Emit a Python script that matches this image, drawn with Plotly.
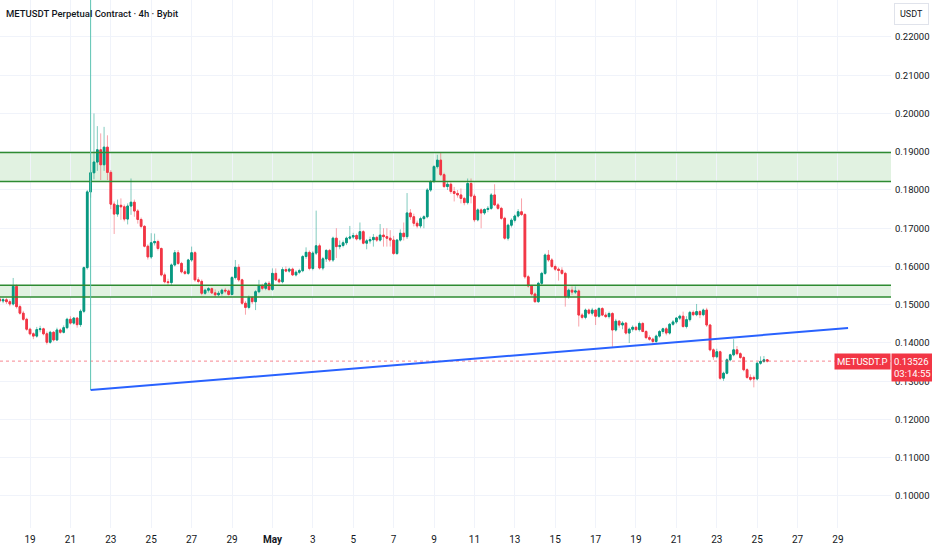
import pandas as pd
import plotly.graph_objects as go

# METUSDT perpetual, 4h candles (first candle 17 Apr 12:00)
candle_start = "2025-04-17 12:00"

opens = [
    0.1515, 0.1510, 0.1513,                              # Apr 17
    0.1508, 0.1502, 0.1548, 0.1495, 0.1478, 0.1462,      # Apr 18
    0.1436, 0.1424, 0.1418, 0.1435, 0.1437, 0.1424,      # Apr 19
    0.1402, 0.1428, 0.1408, 0.1434, 0.1428, 0.1440,      # Apr 20
    0.1462, 0.1452, 0.1465, 0.1448, 0.1483, 0.1597,      # Apr 21
    0.1795, 0.1845, 0.1873, 0.1905, 0.1866, 0.1912,      # Apr 22
    0.1846, 0.1763, 0.1737, 0.1760, 0.1756, 0.1724,      # Apr 23
    0.1758, 0.1768, 0.1745, 0.1723, 0.1705, 0.1653,      # Apr 24
    0.1625, 0.1662, 0.1665, 0.1647, 0.1578, 0.1560,      # Apr 25
    0.1558, 0.1604, 0.1636, 0.1608, 0.1586, 0.1582,      # Apr 26
    0.1617, 0.1636, 0.1565, 0.1561, 0.1530, 0.1538,      # Apr 27
    0.1542, 0.1531, 0.1526, 0.1530, 0.1538, 0.1536,      # Apr 28
    0.1527, 0.1571, 0.1598, 0.1565, 0.1504, 0.1493,      # Apr 29
    0.1519, 0.1508, 0.1534, 0.1549, 0.1543, 0.1556,      # Apr 30
    0.1540, 0.1582, 0.1565, 0.1560, 0.1592, 0.1588,      # May 1
    0.1593, 0.1578, 0.1585, 0.1589, 0.1626, 0.1637,      # May 2
    0.1595, 0.1635, 0.1654, 0.1596, 0.1620, 0.1642,      # May 3
    0.1617, 0.1674, 0.1652, 0.1655, 0.1662, 0.1674,      # May 4
    0.1677, 0.1681, 0.1672, 0.1691, 0.1661, 0.1667,      # May 5
    0.1670, 0.1676, 0.1669, 0.1682, 0.1678, 0.1674,      # May 6
    0.1669, 0.1634, 0.1669, 0.1687, 0.1678, 0.1740,      # May 7
    0.1730, 0.1713, 0.1706, 0.1725, 0.1730, 0.1800,      # May 8
    0.1822, 0.1861, 0.1878, 0.1840, 0.1809, 0.1815,      # May 9
    0.1796, 0.1791, 0.1787, 0.1778, 0.1767, 0.1817,      # May 10
    0.1784, 0.1722, 0.1748, 0.1740, 0.1749, 0.1752,      # May 11
    0.1787, 0.1761, 0.1752, 0.1726, 0.1674, 0.1708,      # May 12
    0.1721, 0.1732, 0.1743, 0.1736, 0.1573, 0.1549,      # May 13
    0.1528, 0.1508, 0.1556, 0.1582, 0.1630, 0.1617,      # May 14
    0.1600, 0.1593, 0.1590, 0.1582, 0.1521, 0.1538,      # May 15
    0.1533, 0.1536, 0.1473, 0.1467, 0.1486, 0.1478,      # May 16
    0.1486, 0.1470, 0.1490, 0.1473, 0.1469, 0.1477,      # May 17
    0.1434, 0.1457, 0.1447, 0.1452, 0.1426, 0.1436,      # May 18
    0.1441, 0.1435, 0.1451, 0.1430, 0.1414, 0.1410,      # May 19
    0.1404, 0.1418, 0.1430, 0.1437, 0.1426, 0.1449,      # May 20
    0.1455, 0.1465, 0.1470, 0.1443, 0.1461, 0.1480,      # May 21
    0.1474, 0.1482, 0.1474, 0.1486, 0.1447, 0.1382,      # May 22
    0.1364, 0.1377, 0.1308, 0.1321, 0.1356, 0.1369,      # May 23
    0.1382, 0.1372, 0.1362, 0.1330, 0.1310, 0.1310,      # May 24
    0.1306, 0.1347, 0.1352, 0.1356,                      # May 25
]

highs = [
    0.1522, 0.1518, 0.1518,
    0.1514, 0.1570, 0.1553, 0.1500, 0.1484, 0.1466,
    0.1440, 0.1428, 0.1442, 0.1445, 0.1440, 0.1430,
    0.1432, 0.1431, 0.1440, 0.1438, 0.1446, 0.1466,
    0.1470, 0.1468, 0.1468, 0.1488, 0.1600, 0.1800,
    0.1852, 0.2000, 0.1967, 0.1948, 0.1965, 0.1943,
    0.1852, 0.1770, 0.1775, 0.1778, 0.1762, 0.1765,
    0.1830, 0.1775, 0.1750, 0.1728, 0.1708, 0.1658,
    0.1687, 0.1686, 0.1670, 0.1650, 0.1584, 0.1568,
    0.1608, 0.1643, 0.1643, 0.1612, 0.1592, 0.1620,
    0.1652, 0.1640, 0.1572, 0.1566, 0.1542, 0.1546,
    0.1545, 0.1540, 0.1536, 0.1542, 0.1544, 0.1540,
    0.1575, 0.1617, 0.1606, 0.1568, 0.1510, 0.1524,
    0.1522, 0.1538, 0.1565, 0.1555, 0.1560, 0.1562,
    0.1595, 0.1595, 0.1570, 0.1598, 0.1600, 0.1597,
    0.1597, 0.1590, 0.1594, 0.1630, 0.1650, 0.1642,
    0.1640, 0.1746, 0.1660, 0.1625, 0.1645, 0.1646,
    0.1678, 0.1700, 0.1668, 0.1668, 0.1678, 0.1706,
    0.1688, 0.1686, 0.1715, 0.1695, 0.1672, 0.1678,
    0.1685, 0.1680, 0.1711, 0.1700, 0.1700, 0.1695,
    0.1680, 0.1672, 0.1697, 0.1715, 0.1792, 0.1750,
    0.1738, 0.1720, 0.1730, 0.1734, 0.1805, 0.1826,
    0.1865, 0.1892, 0.1898, 0.1845, 0.1822, 0.1820,
    0.1808, 0.1800, 0.1804, 0.1782, 0.1830, 0.1830,
    0.1790, 0.1752, 0.1752, 0.1752, 0.1758, 0.1792,
    0.1815, 0.1766, 0.1756, 0.1730, 0.1712, 0.1726,
    0.1736, 0.1750, 0.1778, 0.1740, 0.1578, 0.1552,
    0.1532, 0.1560, 0.1586, 0.1634, 0.1643, 0.1622,
    0.1605, 0.1598, 0.1598, 0.1586, 0.1542, 0.1548,
    0.1548, 0.1540, 0.1478, 0.1490, 0.1490, 0.1492,
    0.1488, 0.1494, 0.1494, 0.1480, 0.1482, 0.1481,
    0.1463, 0.1460, 0.1457, 0.1455, 0.1440, 0.1446,
    0.1445, 0.1456, 0.1455, 0.1434, 0.1420, 0.1414,
    0.1422, 0.1434, 0.1440, 0.1442, 0.1452, 0.1460,
    0.1468, 0.1474, 0.1482, 0.1470, 0.1484, 0.1485,
    0.1502, 0.1486, 0.1490, 0.1492, 0.1450, 0.1386,
    0.1385, 0.1380, 0.1325, 0.1360, 0.1372, 0.1410,
    0.1392, 0.1376, 0.1366, 0.1334, 0.1318, 0.1315,
    0.1350, 0.1365, 0.1366, 0.1358,
]

lows = [
    0.1506, 0.1504, 0.1502,
    0.1496, 0.1498, 0.1490, 0.1474, 0.1458, 0.1432,
    0.1420, 0.1410, 0.1414, 0.1428, 0.1420, 0.1396,
    0.1398, 0.1404, 0.1405, 0.1424, 0.1425, 0.1436,
    0.1448, 0.1448, 0.1440, 0.1442, 0.1478, 0.1592,
    0.1780, 0.1828, 0.1850, 0.1826, 0.1850, 0.1826,
    0.1750, 0.1685, 0.1730, 0.1722, 0.1718, 0.1710,
    0.1735, 0.1730, 0.1712, 0.1700, 0.1650, 0.1618,
    0.1620, 0.1655, 0.1642, 0.1574, 0.1556, 0.1551,
    0.1552, 0.1600, 0.1604, 0.1582, 0.1578, 0.1578,
    0.1612, 0.1560, 0.1556, 0.1525, 0.1526, 0.1532,
    0.1528, 0.1520, 0.1522, 0.1524, 0.1530, 0.1524,
    0.1524, 0.1566, 0.1560, 0.1500, 0.1474, 0.1488,
    0.1502, 0.1486, 0.1530, 0.1538, 0.1538, 0.1536,
    0.1536, 0.1562, 0.1556, 0.1556, 0.1585, 0.1584,
    0.1575, 0.1574, 0.1580, 0.1585, 0.1620, 0.1590,
    0.1590, 0.1630, 0.1592, 0.1590, 0.1612, 0.1612,
    0.1612, 0.1622, 0.1645, 0.1650, 0.1656, 0.1670,
    0.1672, 0.1668, 0.1668, 0.1658, 0.1645, 0.1660,
    0.1652, 0.1664, 0.1665, 0.1652, 0.1652, 0.1652,
    0.1630, 0.1630, 0.1665, 0.1668, 0.1672, 0.1722,
    0.1705, 0.1700, 0.1700, 0.1700, 0.1726, 0.1795,
    0.1818, 0.1856, 0.1836, 0.1805, 0.1800, 0.1790,
    0.1770, 0.1780, 0.1765, 0.1760, 0.1762, 0.1765,
    0.1716, 0.1718, 0.1700, 0.1735, 0.1742, 0.1748,
    0.1758, 0.1748, 0.1722, 0.1670, 0.1668, 0.1702,
    0.1715, 0.1728, 0.1732, 0.1568, 0.1545, 0.1524,
    0.1505, 0.1505, 0.1550, 0.1578, 0.1612, 0.1596,
    0.1588, 0.1563, 0.1578, 0.1495, 0.1516, 0.1526,
    0.1528, 0.1443, 0.1462, 0.1462, 0.1474, 0.1472,
    0.1447, 0.1466, 0.1470, 0.1465, 0.1464, 0.1390,
    0.1430, 0.1440, 0.1436, 0.1422, 0.1400, 0.1430,
    0.1432, 0.1430, 0.1428, 0.1410, 0.1406, 0.1398,
    0.1400, 0.1414, 0.1424, 0.1420, 0.1422, 0.1445,
    0.1450, 0.1460, 0.1440, 0.1438, 0.1456, 0.1470,
    0.1470, 0.1465, 0.1470, 0.1442, 0.1378, 0.1356,
    0.1360, 0.1304, 0.1301, 0.1318, 0.1352, 0.1365,
    0.1368, 0.1358, 0.1326, 0.1306, 0.1300, 0.1284,
    0.1302, 0.1343, 0.1348, 0.1349,
]

closes = [
    0.1510, 0.1513, 0.1508,
    0.1502, 0.1548, 0.1495, 0.1478, 0.1462, 0.1436,
    0.1424, 0.1418, 0.1435, 0.1437, 0.1424, 0.1402,
    0.1428, 0.1408, 0.1434, 0.1428, 0.1440, 0.1462,
    0.1452, 0.1465, 0.1448, 0.1483, 0.1597, 0.1795,
    0.1845, 0.1873, 0.1905, 0.1866, 0.1912, 0.1846,
    0.1763, 0.1737, 0.1760, 0.1756, 0.1724, 0.1758,
    0.1768, 0.1745, 0.1723, 0.1705, 0.1653, 0.1625,
    0.1662, 0.1665, 0.1647, 0.1578, 0.1560, 0.1558,
    0.1604, 0.1636, 0.1608, 0.1586, 0.1582, 0.1617,
    0.1636, 0.1565, 0.1561, 0.1530, 0.1538, 0.1542,
    0.1531, 0.1526, 0.1530, 0.1538, 0.1536, 0.1527,
    0.1571, 0.1598, 0.1565, 0.1504, 0.1493, 0.1519,
    0.1508, 0.1534, 0.1549, 0.1543, 0.1556, 0.1540,
    0.1582, 0.1565, 0.1560, 0.1592, 0.1588, 0.1593,
    0.1578, 0.1585, 0.1589, 0.1626, 0.1637, 0.1595,
    0.1635, 0.1654, 0.1596, 0.1620, 0.1642, 0.1617,
    0.1674, 0.1652, 0.1655, 0.1662, 0.1674, 0.1677,
    0.1681, 0.1672, 0.1691, 0.1661, 0.1667, 0.1670,
    0.1676, 0.1669, 0.1682, 0.1678, 0.1674, 0.1669,
    0.1634, 0.1669, 0.1687, 0.1678, 0.1740, 0.1730,
    0.1713, 0.1706, 0.1725, 0.1730, 0.1800, 0.1822,
    0.1861, 0.1878, 0.1840, 0.1809, 0.1815, 0.1796,
    0.1791, 0.1787, 0.1778, 0.1767, 0.1817, 0.1784,
    0.1722, 0.1748, 0.1740, 0.1749, 0.1752, 0.1787,
    0.1761, 0.1752, 0.1726, 0.1674, 0.1708, 0.1721,
    0.1732, 0.1743, 0.1736, 0.1573, 0.1549, 0.1528,
    0.1508, 0.1556, 0.1582, 0.1630, 0.1617, 0.1600,
    0.1593, 0.1590, 0.1582, 0.1521, 0.1538, 0.1533,
    0.1536, 0.1473, 0.1467, 0.1486, 0.1478, 0.1486,
    0.1470, 0.1490, 0.1473, 0.1469, 0.1477, 0.1434,
    0.1457, 0.1447, 0.1452, 0.1426, 0.1436, 0.1441,
    0.1435, 0.1451, 0.1430, 0.1414, 0.1410, 0.1404,
    0.1418, 0.1430, 0.1437, 0.1426, 0.1449, 0.1455,
    0.1465, 0.1470, 0.1443, 0.1461, 0.1480, 0.1474,
    0.1482, 0.1474, 0.1486, 0.1447, 0.1382, 0.1364,
    0.1377, 0.1308, 0.1321, 0.1356, 0.1369, 0.1382,
    0.1372, 0.1362, 0.1330, 0.1310, 0.1305, 0.1306,
    0.1347, 0.1352, 0.1356, 0.13526,
]

# drawings on the chart
zone_upper = [0.1822, 0.1898]
zone_lower = [0.1520, 0.1551]
trend_dates = ["2025-04-22 00:00", "2025-05-29 12:00"]
trend_prices = [0.1277, 0.1439]
last_price = 0.13526
countdown = "03:14:55"

price_ticks = [0.10, 0.11, 0.12, 0.13, 0.14, 0.15, 0.16, 0.17, 0.18, 0.19, 0.20, 0.21, 0.22]
tick_dates = ["2025-04-19", "2025-04-21", "2025-04-23", "2025-04-25", "2025-04-27",
              "2025-04-29", "2025-05-01", "2025-05-03", "2025-05-05", "2025-05-07",
              "2025-05-09", "2025-05-11", "2025-05-13", "2025-05-15", "2025-05-17",
              "2025-05-19", "2025-05-21", "2025-05-23", "2025-05-25", "2025-05-27",
              "2025-05-29"]
tick_labels = ["19", "21", "23", "25", "27", "29", "<b>May</b>", "3", "5", "7", "9",
               "11", "13", "15", "17", "19", "21", "23", "25", "27", "29"]

x_range = ["2025-04-17 12:20", "2025-05-31 15:00"]
y_range = [0.09163, 0.22967]

UP = "#089981"
DOWN = "#F23645"
TXT = "#131722"
GRID = "#f0f3fa"
FONT = "Roboto"

times = pd.date_range(candle_start, periods=len(closes), freq="4h")
body_hi = [max(o, c) for o, c in zip(opens, closes)]
body_lo = [min(o, c) for o, c in zip(opens, closes)]

fig = go.Figure()

# wicks (lighter), then solid bodies on top
fig.add_trace(go.Candlestick(
    x=times, open=opens, high=highs, low=lows, close=closes,
    increasing=dict(line=dict(color="rgba(8,153,129,0.5)", width=1),
                    fillcolor="rgba(8,153,129,0.5)"),
    decreasing=dict(line=dict(color="rgba(242,54,69,0.45)", width=1),
                    fillcolor="rgba(242,54,69,0.45)"),
    hoverinfo="skip",
))
fig.add_trace(go.Candlestick(
    x=times, open=opens, high=body_hi, low=body_lo, close=closes,
    increasing=dict(line=dict(color=UP, width=1), fillcolor=UP),
    decreasing=dict(line=dict(color=DOWN, width=1), fillcolor=DOWN),
    hoverinfo="skip",
))

shapes = []
for lo, hi in (zone_upper, zone_lower):
    shapes.append(dict(type="rect", xref="paper", x0=0, x1=1, yref="y", y0=lo, y1=hi,
                       fillcolor="rgba(76,175,80,0.17)", line=dict(width=0), layer="below"))
    for lvl in (lo, hi):
        shapes.append(dict(type="line", xref="paper", x0=0, x1=1, yref="y", y0=lvl, y1=lvl,
                           line=dict(color="#2e8b32", width=1.5)))

# last price dotted line
shapes.append(dict(type="line", xref="paper", x0=0, x1=1, yref="y",
                   y0=last_price, y1=last_price,
                   line=dict(color="rgba(242,54,69,0.6)", width=1, dash="dot")))
# vertical marker at the start of the trend line
shapes.append(dict(type="line", xref="x", x0=trend_dates[0], x1=trend_dates[0],
                   yref="y", y0=trend_prices[0], y1=y_range[1],
                   line=dict(color="#5cc3b2", width=1)))
# rising trend line
shapes.append(dict(type="line", xref="x", x0=trend_dates[0], x1=trend_dates[1],
                   yref="y", y0=trend_prices[0], y1=trend_prices[1],
                   line=dict(color="#2962ff", width=2)))

annotations = [
    dict(text="METUSDT Perpetual Contract · 4h · Bybit", xref="paper", yref="paper",
         x=0, y=1, xanchor="left", yanchor="top", xshift=4, yshift=-6, showarrow=False,
         font=dict(family=FONT, size=9.5, color=TXT, weight=500)),
    dict(text="USDT", xref="paper", yref="paper", x=1, y=1, xanchor="left", yanchor="top",
         xshift=3, yshift=-3, showarrow=False, bgcolor="white", bordercolor="#e0e3eb",
         borderwidth=1, borderpad=5, font=dict(family=FONT, size=9, color=TXT)),
    dict(text="METUSDT.P", xref="paper", yref="y", x=1, y=last_price, xanchor="right",
         yanchor="middle", showarrow=False, bgcolor=DOWN, borderpad=2,
         font=dict(family=FONT, size=9.5, color="white")),
    dict(text=f"{last_price:.5f}<br>{countdown}", xref="paper", yref="y", x=1, y=last_price,
         xanchor="left", yanchor="top", yshift=8, showarrow=False, bgcolor=DOWN,
         borderpad=2, align="left", font=dict(family=FONT, size=9.5, color="white")),
]

fig.update_layout(
    width=932, height=550,
    margin=dict(l=0, r=41, t=0, b=22),
    paper_bgcolor="white", plot_bgcolor="white",
    showlegend=False,
    shapes=shapes, annotations=annotations,
    xaxis=dict(type="date", range=x_range, rangeslider=dict(visible=False),
               tickvals=tick_dates, ticktext=tick_labels, showgrid=True, gridcolor=GRID,
               zeroline=False, showline=False, ticks="", ticklabelstandoff=4,
               tickfont=dict(family=FONT, size=10, color=TXT)),
    yaxis=dict(side="right", range=y_range, tickvals=price_ticks, tickformat=".5f",
               showgrid=True, gridcolor=GRID, zeroline=False, showline=False, ticks="",
               ticklabelstandoff=3,
               tickfont=dict(family=FONT, size=9.5, color=TXT)),
)

# the page's default body margin would shift the chart, so drop it
fig.write_html("out.html", config={"displayModeBar": False},
               post_script="document.body.style.margin='0px';")
